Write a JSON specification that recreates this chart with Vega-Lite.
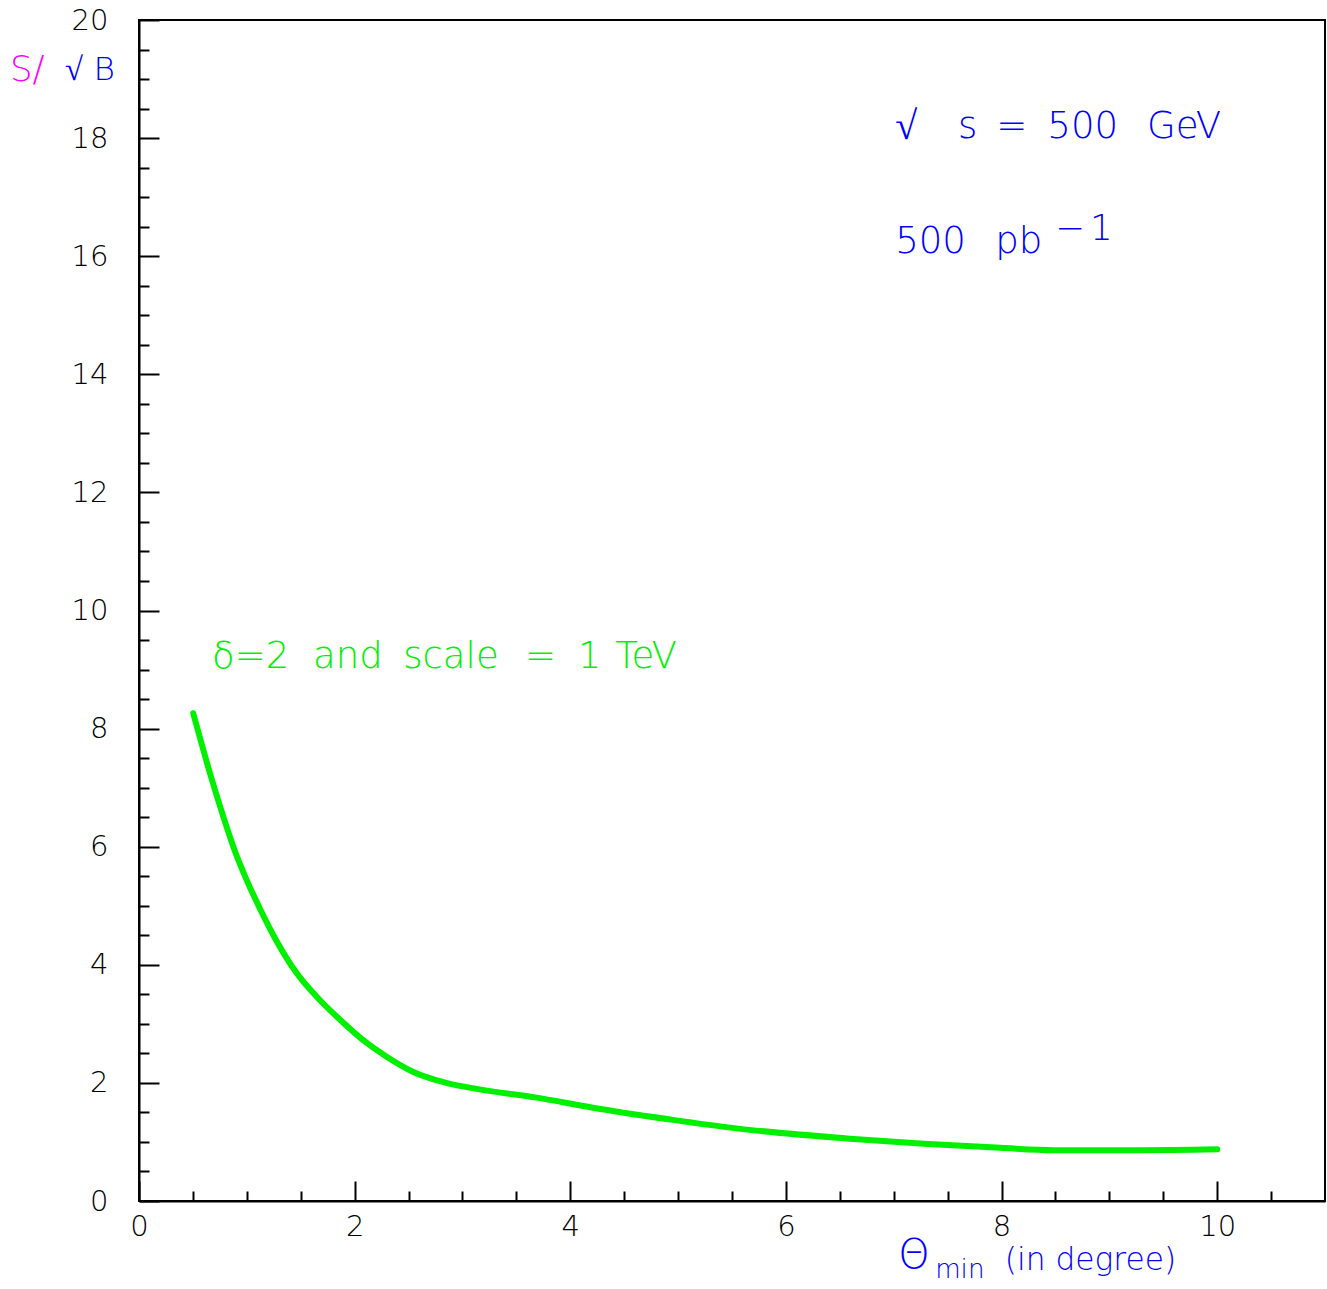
{
  "$schema": "https://vega.github.io/schema/vega-lite/v6.json",
  "width": 1186,
  "height": 1181,
  "autosize": {"type": "none"},
  "padding": {"left": 139, "top": 20, "right": 2, "bottom": 88},
  "background": "white",
  "config": {
    "view": {"stroke": "black", "strokeWidth": 2},
    "font": "DejaVu Sans"
  },
  "datasets": {
    "curve": [
      {"theta": 0.503, "sb": 8.26},
      {"theta": 0.659, "sb": 7.24},
      {"theta": 0.782, "sb": 6.51},
      {"theta": 0.891, "sb": 5.92},
      {"theta": 1.0, "sb": 5.43},
      {"theta": 1.122, "sb": 4.95},
      {"theta": 1.277, "sb": 4.40},
      {"theta": 1.462, "sb": 3.86},
      {"theta": 1.679, "sb": 3.40},
      {"theta": 1.865, "sb": 3.07},
      {"theta": 2.11, "sb": 2.68},
      {"theta": 2.30, "sb": 2.44},
      {"theta": 2.54, "sb": 2.19},
      {"theta": 2.85, "sb": 2.00},
      {"theta": 3.16, "sb": 1.89},
      {"theta": 3.69, "sb": 1.75},
      {"theta": 4.21, "sb": 1.58},
      {"theta": 4.93, "sb": 1.38},
      {"theta": 5.54, "sb": 1.23},
      {"theta": 6.56, "sb": 1.06},
      {"theta": 7.28, "sb": 0.97},
      {"theta": 7.99, "sb": 0.90},
      {"theta": 8.48, "sb": 0.86},
      {"theta": 9.29, "sb": 0.86},
      {"theta": 10.0, "sb": 0.875}
    ],
    "labels": [
      {"x": -1.197, "y": 19.15, "text": "S/", "grp": "mag", "size": 38},
      {"x": -0.686, "y": 19.15, "text": "√ B", "grp": "blue", "size": 34},
      {"x": 7.013, "y": 18.19, "text": "√", "grp": "blue", "size": 44},
      {"x": 7.597, "y": 18.19, "text": "s", "grp": "blue", "size": 40},
      {"x": 7.95, "y": 18.19, "text": "=", "grp": "blue", "size": 40},
      {"x": 8.425, "y": 18.19, "text": "500", "grp": "blue", "size": 40},
      {"x": 9.35, "y": 18.19, "text": "GeV", "grp": "blue", "size": 40},
      {"x": 7.013, "y": 16.24, "text": "500", "grp": "blue", "size": 40},
      {"x": 7.941, "y": 16.24, "text": "pb", "grp": "blue", "size": 40},
      {"x": 8.497, "y": 16.46, "text": "−", "grp": "blue", "size": 38},
      {"x": 8.82, "y": 16.46, "text": "1", "grp": "blue", "size": 38},
      {"x": 0.677, "y": 9.21, "text": "δ=2", "grp": "green", "size": 40},
      {"x": 1.614, "y": 9.21, "text": "and", "grp": "green", "size": 40},
      {"x": 2.45, "y": 9.21, "text": "scale", "grp": "green", "size": 40},
      {"x": 3.58, "y": 9.21, "text": "=", "grp": "green", "size": 40},
      {"x": 4.07, "y": 9.21, "text": "1", "grp": "green", "size": 40},
      {"x": 4.416, "y": 9.21, "text": "TeV", "grp": "green", "size": 40},
      {"x": 7.041, "y": -0.93, "text": "Θ", "grp": "blue", "size": 44},
      {"x": 7.384, "y": -1.17, "text": "min", "grp": "blue", "size": 25},
      {"x": 8.03, "y": -1.02, "text": "(in degree)", "grp": "blue", "size": 32}
    ]
  },
  "layer": [
    {
      "data": {"name": "curve"},
      "mark": {"type": "line", "color": "#00f000", "strokeWidth": 6, "interpolate": "monotone", "strokeCap": "round"},
      "encoding": {
        "x": {
          "field": "theta", "type": "quantitative",
          "scale": {"domain": [0, 11], "nice": false, "zero": false},
          "axis": {
            "title": null,
            "tickCount": 200,
            "values": [0,0.5,1,1.5,2,2.5,3,3.5,4,4.5,5,5.5,6,6.5,7,7.5,8,8.5,9,9.5,10,10.5],
            "labelExpr": "datum.value % 2 === 0 ? '' + datum.value : ''",
            "tickSize": {"condition": {"test": "datum.value % 2 === 0", "value": -20}, "value": -10},
            "tickColor": "black",
            "tickWidth": 2,
            "domainColor": "black",
            "domainWidth": 2,
            "labelFontSize": 29,
            "labelFontWeight": 200,
            "labelColor": "black",
            "labelPadding": 31,
            "labelFlush": false,
            "labelOverlap": false,
            "grid": false
          }
        },
        "y": {
          "field": "sb", "type": "quantitative",
          "scale": {"domain": [0, 20], "nice": false, "zero": false},
          "axis": {
            "title": null,
            "tickCount": 200,
            "values": [0,0.5,1,1.5,2,2.5,3,3.5,4,4.5,5,5.5,6,6.5,7,7.5,8,8.5,9,9.5,10,10.5,11,11.5,12,12.5,13,13.5,14,14.5,15,15.5,16,16.5,17,17.5,18,18.5,19,19.5,20],
            "labelExpr": "datum.value % 2 === 0 ? '' + datum.value : ''",
            "tickSize": {"condition": {"test": "datum.value % 2 === 0", "value": -20}, "value": -10},
            "tickColor": "black",
            "tickWidth": 2,
            "domainColor": "black",
            "domainWidth": 2,
            "labelFontSize": 29,
            "labelFontWeight": 200,
            "labelColor": "black",
            "labelPadding": 51,
            "labelFlush": false,
            "labelOverlap": false,
            "grid": false
          }
        }
      }
    },
    {
      "mark": {"type": "rule", "color": "black", "strokeWidth": 5},
      "encoding": {
        "x": {"datum": 0.05},
        "x2": {"datum": 11},
        "y": {"datum": 5}
      }
    },
    {
      "data": {"name": "labels"},
      "mark": {"type": "text", "align": "left", "baseline": "middle", "clip": false, "fontWeight": 200},
      "encoding": {
        "x": {"field": "x", "type": "quantitative"},
        "y": {"field": "y", "type": "quantitative"},
        "text": {"field": "text"},
        "size": {"field": "size", "type": "quantitative", "scale": {"type": "identity"}, "legend": null},
        "color": {
          "field": "grp", "type": "nominal",
          "scale": {"domain": ["mag", "blue", "green"], "range": ["#ff00ff", "#0000ff", "#00f000"]},
          "legend": null
        }
      }
    }
  ]
}
